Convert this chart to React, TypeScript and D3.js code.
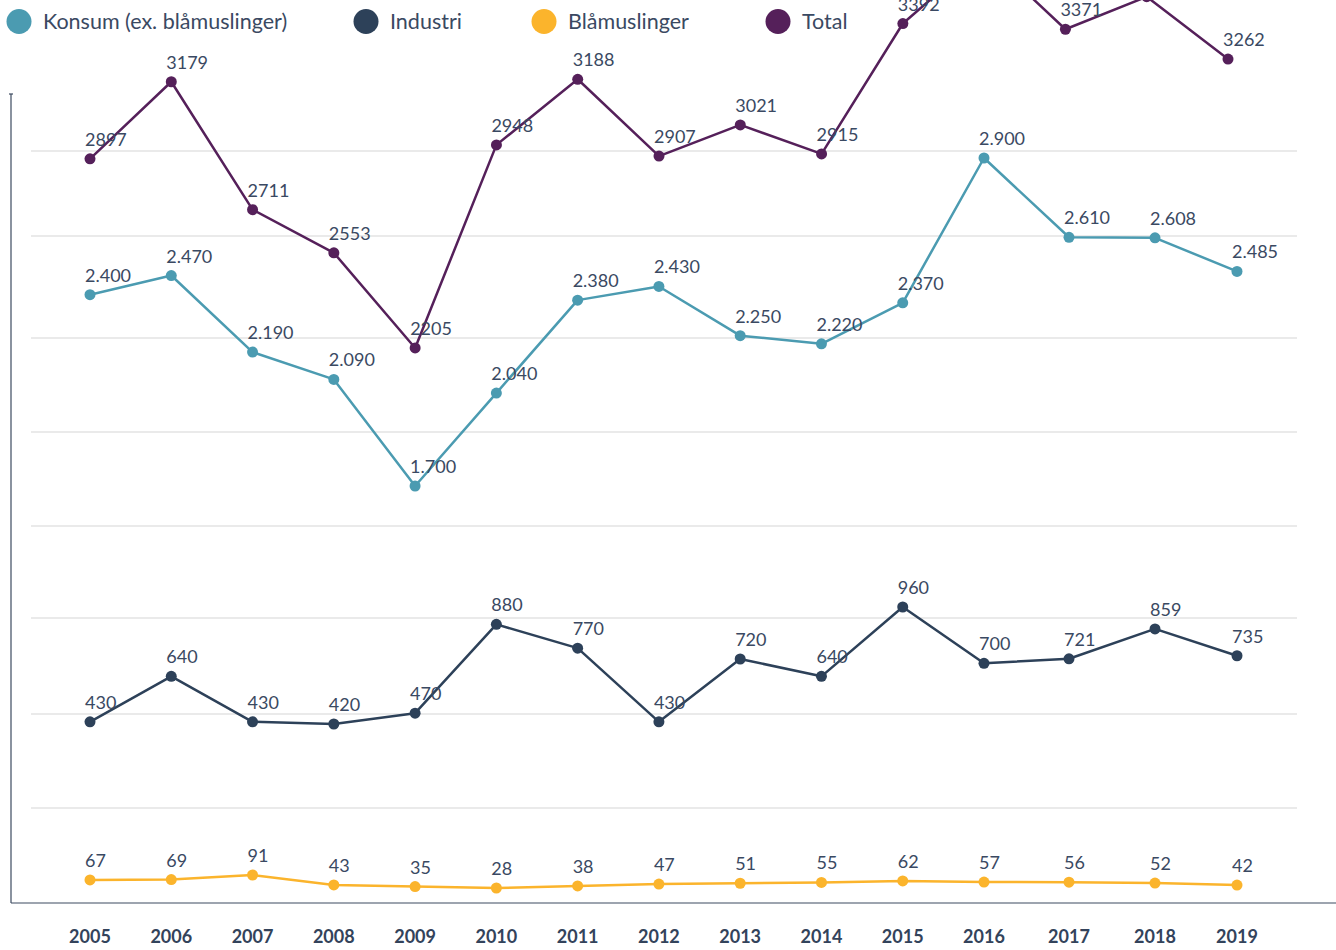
import React from "react";
import * as d3 from "d3";

const years = ["2005","2006","2007","2008","2009","2010","2011","2012","2013","2014","2015","2016","2017","2018","2019"];
const konsum = [2400,2470,2190,2090,1700,2040,2380,2430,2250,2220,2370,2900,2610,2608,2485];
const industri = [430,640,430,420,470,880,770,430,720,640,960,700,721,859,735];
const blaamuslinger = [67,69,91,43,35,28,38,47,51,55,62,57,56,52,42];
const total = [2897,3179,2711,2553,2205,2948,3188,2907,3021,2915,3392,3650,3371,3490,3262];
const konsumLabels = ["2.400","2.470","2.190","2.090","1.700","2.040","2.380","2.430","2.250","2.220","2.370","2.900","2.610","2.608","2.485"];
const legendNames = ["Konsum (ex. blåmuslinger)","Industri","Blåmuslinger","Total"];

const W = 1336, H = 950;
const COLORS = { konsum: "#4b9bb1", industri: "#2d4159", bla: "#fbb42c", total: "#55205a" };
const TEXT = "#3a4962";
const GRID_Y = [151, 236, 338, 432, 526, 618, 714, 808];
const LEGEND_X = [19, 366, 544, 778];
// x-axis layout breakpoints (index -> pixel), the axis spacing widens after 2016
const X_BREAK_IDX = [0, 11, 12, 13, 14];
const X_BREAK_PX = [90, 984, 1069, 1155, 1237];
const FONT = "Lato, 'Open Sans', sans-serif";

export default function App() {
  const xi = d3.scaleLinear().domain(X_BREAK_IDX).range(X_BREAK_PX);
  const x = (yr: string) => xi(years.indexOf(yr));
  const xTotal = d3.scalePoint<string>().domain(years).range([90, 1228]);
  const yMain = d3.scaleLinear().domain([1700, 2900]).range([486, 158]);
  const yInd = d3.scaleLinear().domain([420, 960]).range([724, 607]);
  const yBla = d3.scaleLinear().domain([28, 91]).range([888, 875]);

  const series = [
    { key: "total", values: total, y: yMain, x: (yr: string) => xTotal(yr)!, color: COLORS.total, labels: total.map(String) },
    { key: "konsum", values: konsum, y: yMain, x, color: COLORS.konsum, labels: konsumLabels },
    { key: "industri", values: industri, y: yInd, x, color: COLORS.industri, labels: industri.map(String) },
    { key: "bla", values: blaamuslinger, y: yBla, x, color: COLORS.bla, labels: blaamuslinger.map(String) },
  ];
  const legendColors = [COLORS.konsum, COLORS.industri, COLORS.bla, COLORS.total];

  return (
    <div style={{ position: "fixed", left: 0, top: 0, width: W, height: H, background: "#fff" }}>
      <svg width={W} height={H} style={{ display: "block", fontFamily: FONT }}>
        {GRID_Y.map((gy) => (
          <line key={gy} x1={31} x2={1297} y1={gy} y2={gy} stroke="#e3e3e3" strokeWidth={1.5} />
        ))}
        <line x1={11} x2={11} y1={94} y2={903} stroke="#3c4a60" strokeWidth={1.2} />
        <line x1={9} x2={13} y1={94} y2={94} stroke="#3c4a60" strokeWidth={1.2} />
        <line x1={11} x2={W} y1={903} y2={903} stroke="#3c4a60" strokeWidth={1.2} />
        {years.map((yr) => (
          <text key={yr} x={x(yr)} y={943} textAnchor="middle" fontSize={18} fontWeight={700} fill="#33435b">{yr}</text>
        ))}
        {series.map((s) => {
          const line = d3.line<number>().x((_, i) => s.x(years[i])).y((v) => s.y(v));
          return (
            <g key={s.key}>
              <path d={line(s.values) || ""} fill="none" stroke={s.color} strokeWidth={2.5} strokeLinejoin="round" />
              {s.values.map((v, i) => (
                <circle key={i} cx={s.x(years[i])} cy={s.y(v)} r={5.5} fill={s.color} />
              ))}
              {s.values.map((v, i) => (
                <text key={"t" + i} x={s.x(years[i]) - 5} y={s.y(v) - 13} fontSize={18} fill={TEXT}>{s.labels[i]}</text>
              ))}
            </g>
          );
        })}
        {legendNames.map((n, i) => (
          <g key={n}>
            <circle cx={LEGEND_X[i]} cy={21.5} r={12.5} fill={legendColors[i]} />
            <text x={LEGEND_X[i] + 24} y={29} fontSize={21.5} fill={TEXT}>{n}</text>
          </g>
        ))}
      </svg>
    </div>
  );
}
